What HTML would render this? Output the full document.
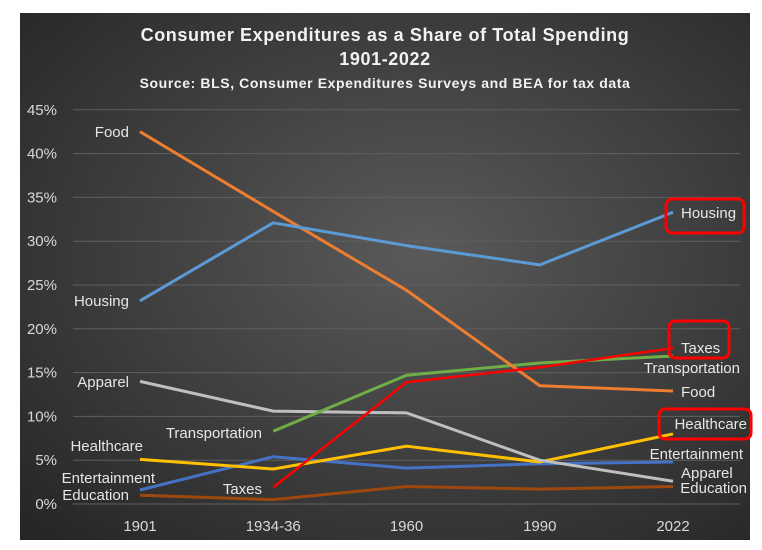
<!DOCTYPE html>
<html><head><meta charset="utf-8"><style>
html,body{margin:0;padding:0;background:#fff;width:762px;height:550px;overflow:hidden}
svg{display:block;font-family:"Liberation Sans",sans-serif}
</style></head><body>
<svg id="chart" width="762" height="550">
<defs><radialGradient id="bg" cx="0.55" cy="0.45" r="0.75"><stop offset="0" stop-color="#5a5a5a"/><stop offset="1" stop-color="#262626"/></radialGradient></defs>
<rect x="20" y="13" width="730" height="527" fill="url(#bg)"/>
<g fill="#f2f2f2" font-weight="bold" text-anchor="middle" letter-spacing="0.6">
<text x="385" y="41" font-size="18">Consumer Expenditures as a Share of Total Spending</text>
<text x="385" y="65" font-size="18">1901-2022</text>
<text x="385" y="88" font-size="14">Source: BLS, Consumer Expenditures Surveys and BEA for tax data</text>
</g>
<g id="grid"></g><g id="axes"></g><g id="series"></g><g id="labels"></g>
</svg>
<script>
const categories=["1901","1934-36","1960","1990","2022"];
const yTicks=[0,5,10,15,20,25,30,35,40,45];
const food=[42.5,33.4,24.4,13.5,12.9];
const housing=[23.2,32.1,29.5,27.3,33.3];
const apparel=[14.0,10.6,10.4,5.0,2.6];
const transportation=[null,8.3,14.7,16.1,16.9];
const taxes=[null,1.9,13.9,15.6,17.8];
const healthcare=[5.1,4.0,6.6,4.8,8.0];
const entertainment=[1.6,5.4,4.1,4.6,4.8];
const education=[1.0,0.5,2.0,1.7,2.0];
const NS="http://www.w3.org/2000/svg";
const X=i=>140+i*133.25;
const Y=v=>504-v*8.76;
function mk(tag,attrs,parent,text){const e=document.createElementNS(NS,tag);for(const k in attrs)e.setAttribute(k,attrs[k]);if(text!=null)e.textContent=text;parent.appendChild(e);return e;}
const grid=document.getElementById('grid'),axes=document.getElementById('axes'),ser=document.getElementById('series'),lab=document.getElementById('labels');
yTicks.forEach(t=>{
 const l=mk('line',{x1:73,x2:740,y1:Y(t),y2:Y(t),stroke:'#5f5f5f','stroke-width':1},grid);
 
 
 const tx=mk('text',{x:57,y:Y(t)+5,'text-anchor':'end','font-size':15,fill:'#d9d9d9'},axes,t+'%');
 
 
});
categories.forEach((c,i)=>{
 const tx=mk('text',{x:X(i),y:531,'text-anchor':'middle','font-size':15,fill:'#d9d9d9'},axes,c);
 
 
});
const seriesList=[
 ['education',education,'#9e480e'],['entertainment',entertainment,'#4472c4'],['healthcare',healthcare,'#ffc000'],
 ['apparel',apparel,'#bfbfbf'],['transportation',transportation,'#70ad47'],['food',food,'#ed7d31'],
 ['housing',housing,'#5b9bd5'],['taxes',taxes,'#ff0000']];
seriesList.forEach(([name,vals,col])=>{
 const pts=[];vals.forEach((v,i)=>{if(v!=null)pts.push(X(i)+','+Y(v));});
 const p=mk('polyline',{points:pts.join(' '),fill:'none',stroke:col,'stroke-width':name==='taxes'?2.5:3,'stroke-linejoin':'round'},ser);
 
 
});
function label(txt,x,y,anchor){
 const t=mk('text',{x:x,y:y,'text-anchor':anchor,'font-size':15,fill:'#e6e6e6'},lab,txt);
 
 
}
label('Food',129,137,'end');label('Housing',129,306,'end');label('Apparel',129,387,'end');
label('Transportation',262,438,'end');label('Healthcare',143,451,'end');
label('Entertainment',155,483,'end');label('Education',129,500,'end');label('Taxes',262,494,'end');
label('Housing',681,218,'start');label('Taxes',681,353,'start');label('Transportation',740,373,'end');
label('Food',681,397,'start');label('Healthcare',747,429,'end');label('Entertainment',743,459,'end');
label('Apparel',681,478,'start');label('Education',747,493,'end');
[[666,199,78,34],[669,321,60,37],[659,409,92,30]].forEach(r=>{
 const b=mk('rect',{x:r[0],y:r[1],width:r[2],height:r[3],rx:6,fill:'none',stroke:'#ff0000','stroke-width':3},lab);
 
 
});
</script>
</body></html>
